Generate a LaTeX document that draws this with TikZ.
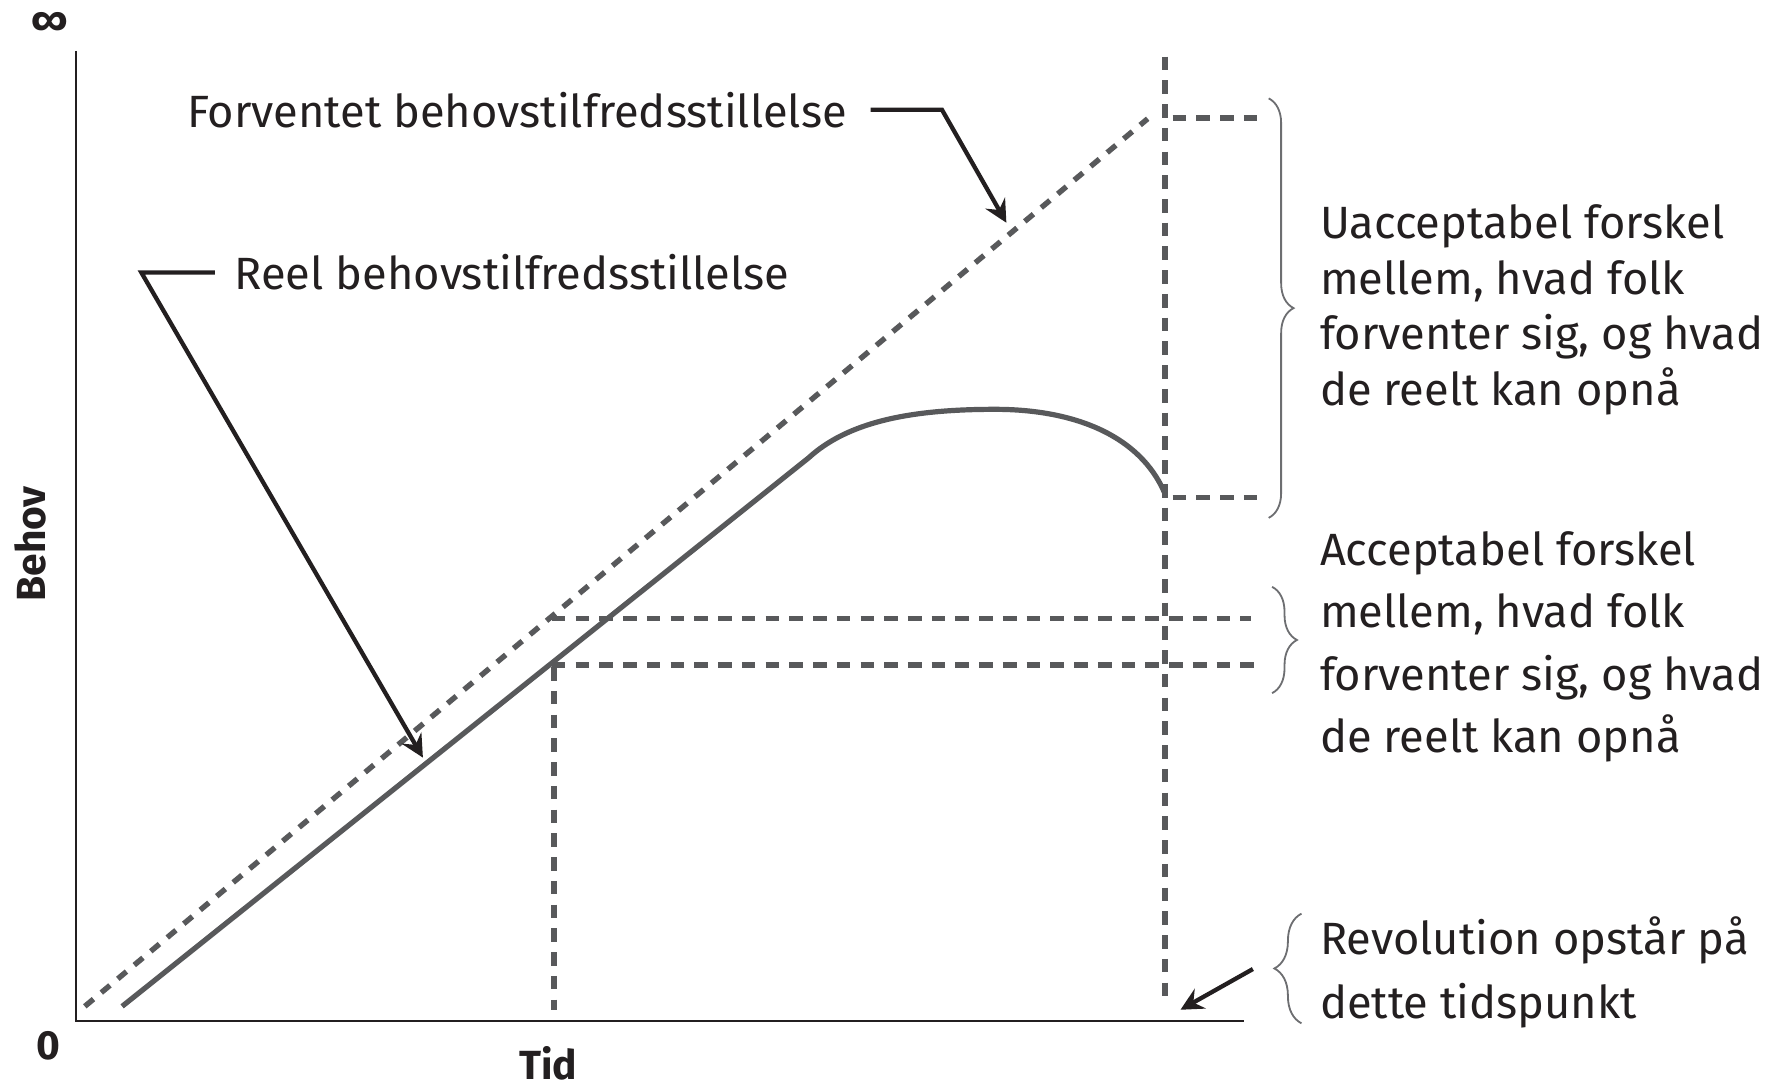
\documentclass[tikz,border=0pt]{standalone}
\usepackage{fontspec}
\setmainfont{Fira Sans}
\usetikzlibrary{arrows.meta,decorations.pathreplacing}
\definecolor{ink}{HTML}{231F20}
\definecolor{dgray}{HTML}{58595B}
\definecolor{bgray}{HTML}{6D6E71}
\begin{document}
\begin{tikzpicture}[x=0.5pt,y=-0.5pt,
  lbl/.style={font=\fontsize{20}{25}\selectfont, text=ink, inner sep=0pt, anchor=west, align=left},
  axlbl/.style={font=\fontsize{18}{22}\selectfont\bfseries, text=ink, inner sep=0pt},
  axisline/.style={draw=ink, line width=1.1pt},
  guideline/.style={draw=dgray, line width=2.6pt, dash pattern=on 6pt off 4.5pt},
  diagdash/.style={draw=dgray, line width=2.4pt, dash pattern=on 5pt off 4.5pt},
  realline/.style={draw=dgray, line width=2.3pt},
  pointer/.style={draw=ink, line width=1.9pt, -{Stealth[length=10pt,width=10pt,inset=3.5pt]}},
  bracebig/.style={draw=bgray, line width=0.8pt, decorate, decoration={brace, amplitude=#1}}
]
\useasboundingbox (0,0) rectangle (1568,961);

% axes
\coordinate (origin) at (67,903);
\coordinate (ytop) at (67,45);
\coordinate (xend) at (1100,903);
\draw[axisline] (ytop) -- (origin) -- (xend);
\node[axlbl] (inf) at (44,21) {∞};
\node[axlbl] (zero) at (43,925) {0};
\node[axlbl, rotate=90] (behov) at (27,481) {Behov};
\node[axlbl] (tid) at (485,940) {Tid};

% expected line
\coordinate (e0) at (75,890);
\coordinate (e1) at (1015,105);
\draw[diagdash] (e0) -- (e1);

% real line
\coordinate (r0) at (108,890);
\coordinate (rk) at (715,405);
\coordinate (rpk) at (880,362);
\coordinate (r1) at (1030,436);
\draw[realline] (r0) -- (rk) .. controls (750,373) and (805,362) .. (rpk) .. controls (950,362) and (1008,385) .. (r1);

% dashed guide lines
\coordinate (v1t) at (1030,50);
\coordinate (v1b) at (1030,890);
\draw[guideline] (v1t) -- (v1b);
\coordinate (ha1) at (1037,104);
\coordinate (ha2) at (1120,104);
\draw[guideline] (ha1) -- (ha2);
\coordinate (hb1) at (1037,440);
\coordinate (hb2) at (1120,440);
\draw[guideline] (hb1) -- (hb2);
\coordinate (hc1) at (488,547);
\coordinate (hc2) at (1106,547);
\draw[guideline] (hc1) -- (hc2);
\coordinate (hd1) at (488,588);
\coordinate (hd2) at (1112,588);
\draw[guideline] (hd1) -- (hd2);
\coordinate (v2t) at (490,590);
\coordinate (v2b) at (490,893);
\draw[guideline] (v2t) -- (v2b);

% labels with pointers
\node[lbl] (fv) at (165,97) {Forventet behovstilfredsstillelse};
\coordinate (fvs) at (770,97);
\coordinate (fvk) at (833,97);
\coordinate (fvt) at (890,197);
\draw[pointer] (fvs) -- (fvk) -- (fvt);

\node[lbl] (rl) at (207,241) {Reel behovstilfredsstillelse};
\coordinate (rls) at (190,241);
\coordinate (rlk) at (125,241);
\coordinate (rlt) at (374,670);
\draw[pointer] (rls) -- (rlk) -- (rlt);

% braces
\coordinate (b1t) at (1122,87);
\coordinate (b1b) at (1122,458);
\draw[bracebig=11pt] (b1t) -- (b1b);
\coordinate (b2t) at (1125,519);
\coordinate (b2b) at (1125,613);
\draw[bracebig=11pt] (b2t) -- (b2b);
\coordinate (b3b) at (1151,905);
\coordinate (b3t) at (1151,808);
\draw[bracebig=12pt] (b3b) -- (b3t);

\node[lbl, font=\fontsize{20}{24.7}\selectfont] (unacc) at (1167,274) {Uacceptabel forskel\\mellem, hvad folk\\forventer sig, og hvad\\de reelt kan opnå};
\node[lbl, font=\fontsize{20}{27.5}\selectfont] (acc) at (1167,572) {Acceptabel forskel\\mellem, hvad folk\\forventer sig, og hvad\\de reelt kan opnå};
\node[lbl, font=\fontsize{20}{28}\selectfont] (rev) at (1167,860) {Revolution opstår på\\dette tidspunkt};

\coordinate (rvs) at (1108,857);
\coordinate (rvt) at (1044,893);
\draw[pointer] (rvs) -- (rvt);
\end{tikzpicture}
\end{document}
